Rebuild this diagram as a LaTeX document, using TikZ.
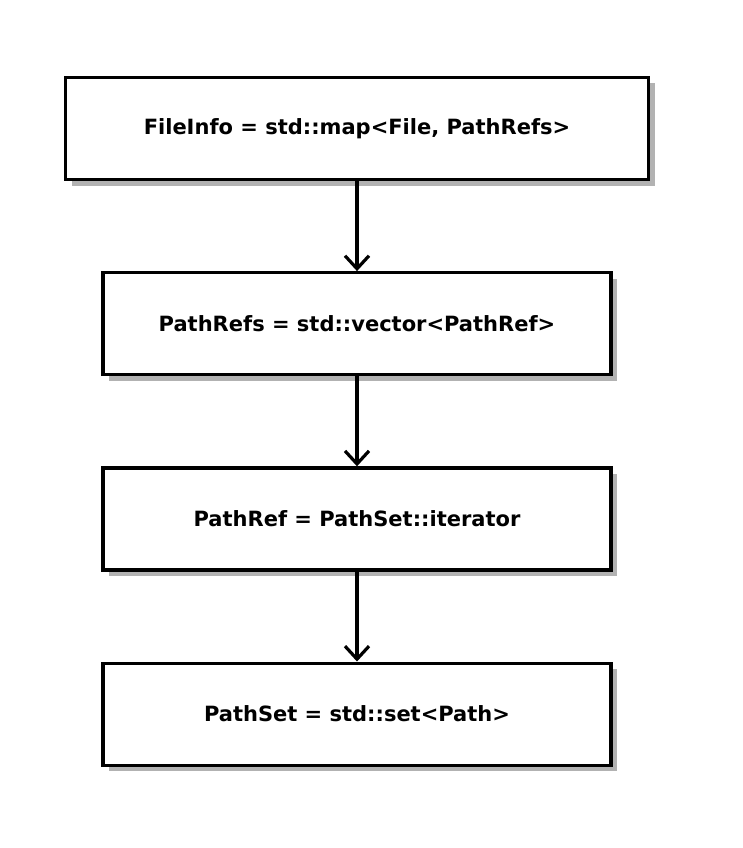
\documentclass[tikz,border=0pt]{standalone}
\usepackage{fontspec}
\setmainfont{DejaVu Sans}
\usetikzlibrary{arrows.meta}
\usetikzlibrary{positioning}
\usetikzlibrary{shadows}

\tikzset{
  typebox/.style={rectangle, draw, line width=3.2pt, fill=white, minimum height=102pt,
    font=\fontsize{21}{24}\selectfont\bfseries,
    drop shadow={shadow xshift=6pt, shadow yshift=-6pt, fill=black!30, opacity=1}},
  typelink/.style={line width=3.2pt, -{Straight Barb[length=13pt, width=24pt, line width=3.2pt]}}
}

\begin{document}
\begin{tikzpicture}[x=1pt, y=-1pt, node distance=90pt]
      \useasboundingbox (0,0) rectangle (742,848);
      \node[typebox, minimum width=583pt] (fileinfo) at (357,128.5) {FileInfo = std::map<File, PathRefs>};
      \node[typebox, minimum width=508pt, below=of fileinfo.south, anchor=north] (pathrefs) {PathRefs = std::vector<PathRef>};
      \node[typebox, minimum width=508pt, below=of pathrefs.south, anchor=north] (pathref) {PathRef = PathSet::iterator};
      \node[typebox, minimum width=508pt, below=of pathref.south, anchor=north] (pathset) {PathSet = std::set<Path>};

      \draw[typelink] (fileinfo) -- (pathrefs);
      \draw[typelink] (pathrefs) -- (pathref);
      \draw[typelink] (pathref) -- (pathset);
    \end{tikzpicture}
\end{document}
